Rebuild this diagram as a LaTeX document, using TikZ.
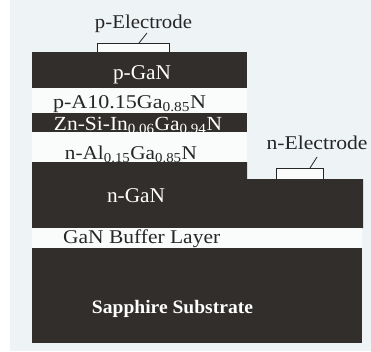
\documentclass[tikz,border=0pt]{standalone}
\usepackage{fontspec}
\usepackage{graphicx}
\setmainfont{Liberation Serif}
\definecolor{bgc}{HTML}{EEF3F5}
\definecolor{dark}{HTML}{312E2B}
\definecolor{lite}{HTML}{FAFCFC}
\newcommand{\fitw}[2]{\resizebox{#1pt}{\height}{#2}}
\begin{document}
\begin{tikzpicture}[x=1pt,y=-1pt,
  layer/.style={fill=dark,draw=none},
  wlayer/.style={fill=lite,draw=none},
  wtxt/.style={text=white,font=\fontsize{20}{22}\selectfont,inner sep=0pt,anchor=base},
  wbtxt/.style={text=white,font=\fontsize{19}{22}\selectfont\bfseries,inner sep=0pt,anchor=base},
  btxt/.style={text=black!85,font=\fontsize{19.5}{22}\selectfont,inner sep=0pt,anchor=base},
  elec/.style={draw=black!85,fill=lite,line width=0.9pt},
  lead/.style={draw=black!85,line width=0.8pt}]
\useasboundingbox (0,0) rectangle (371,351);
\fill[bgc] (0,0) rectangle (371,351);
\fill[white] (0,0) rectangle (10,351);
% layers
\fill[layer] (32,52) rectangle (247,88);
\fill[wlayer] (32,88) rectangle (247,113);
\fill[layer] (32,113) rectangle (247,132);
\fill[wlayer] (32,132) rectangle (247,162);
\fill[layer] (32,162) -- (247,162) -- (247,179) -- (363,179) -- (363,228) -- (32,228) -- cycle;
\fill[wlayer] (32,228) rectangle (362,248);
\fill[layer] (32,248) rectangle (362,343);
% electrodes
\draw[elec] (97,52) -- (97,43) -- (169,43) -- (169,52);
\draw[elec] (276,179) -- (276,168) -- (323,168) -- (323,179);
\coordinate (pe) at (139,43);
\coordinate (ne) at (310,168);
\node[btxt] (plab) at (143.5,28) {\fitw{97}{p-Electrode}};
\node[btxt] (nlab) at (317,149) {\fitw{101}{n-Electrode}};
\draw[lead] (pe) -- ++(8,-10);
\draw[lead] (ne) -- ++(7,-11);
% texts
\node[wtxt,font=\fontsize{21}{22}\selectfont] (pgan) at (142,79) {\fitw{58}{p-GaN}};
\node[btxt] (palgan) at (129.6,108) {\fitw{153}{p-A10.15Ga\textsubscript{0.85}N}};
\node[wtxt] (zn) at (138,130) {\fitw{168}{Zn-Si-In\textsubscript{0.06}Ga\textsubscript{0.94}N}};
\node[btxt] (nalgan) at (131,159) {\fitw{132}{n-Al\textsubscript{0.15}Ga\textsubscript{0.85}N}};
\node[wtxt,font=\fontsize{21}{22}\selectfont] (ngan) at (136,202) {\fitw{58}{n-GaN}};
\node[btxt,anchor=base west] (buf) at (63,243) {\fitw{157}{GaN Buffer Layer}};
\node[wbtxt] (sap) at (172.5,313) {\fitw{161}{Sapphire Substrate}};
\end{tikzpicture}
\end{document}
